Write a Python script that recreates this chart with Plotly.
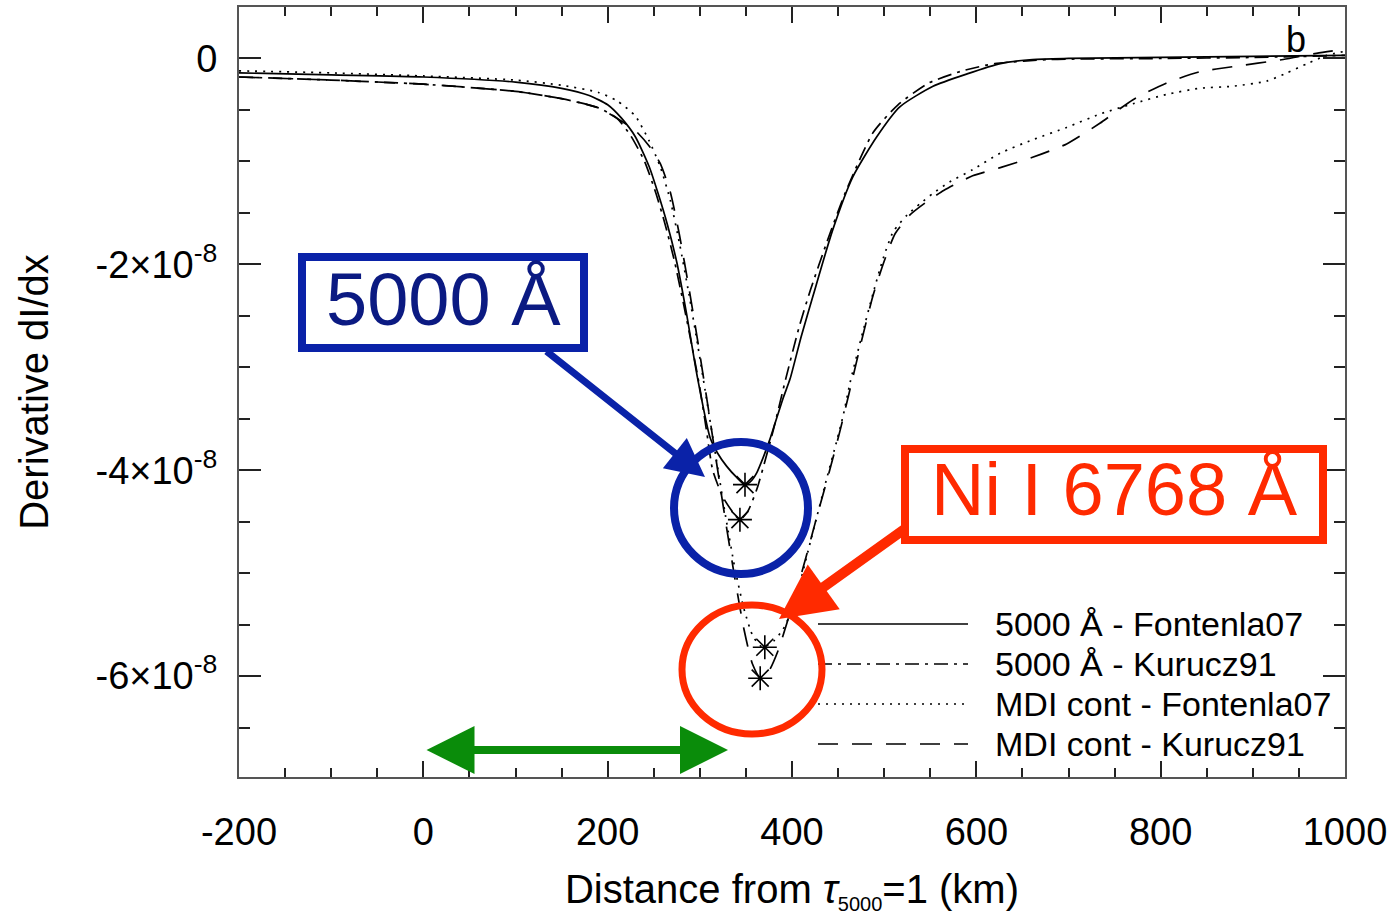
import numpy as np
import plotly.graph_objects as go

# ---------------- data (y in units of 1e-8) ----------------
x_5000_fon = [-200, -100, 0, 100, 150, 180, 200, 215, 230, 245, 255, 265, 275, 285, 297, 311, 319, 329,
              340, 349, 356, 362, 369, 376, 390, 398, 410, 423, 444, 466, 492, 517, 553, 590, 626, 661,
              700, 800, 900, 1000]
y_5000_fon = [-0.14, -0.16, -0.18, -0.23, -0.29, -0.36, -0.45, -0.58, -0.76, -1.05, -1.32, -1.62, -1.98,
              -2.45, -3.08, -3.68, -3.83, -3.96, -4.07, -4.14, -4.10, -4.02, -3.87, -3.70, -3.31, -3.11,
              -2.70, -2.30, -1.67, -1.15, -0.76, -0.47, -0.27, -0.15, -0.05, -0.01, 0.0, 0.01, 0.02, 0.03]

x_5000_kur = [-200, -100, 0, 100, 150, 190, 210, 225, 240, 252, 262, 272, 282, 292, 300, 307, 314, 325,
              336, 343.5, 352, 362, 371, 380, 393, 408, 420, 438, 458, 488, 515, 548, 585, 620, 680, 800,
              900, 1000]
y_5000_kur = [-0.18, -0.21, -0.25, -0.32, -0.39, -0.48, -0.58, -0.75, -1.0, -1.3, -1.6, -1.95, -2.37,
              -2.82, -3.2, -3.6, -4.0, -4.26, -4.41, -4.48, -4.40, -4.18, -3.9, -3.6, -3.12, -2.6, -2.25,
              -1.78, -1.3, -0.72, -0.45, -0.24, -0.12, -0.05, -0.01, 0.0, 0.01, 0.03]

x_mdi_fon = [-200, -100, 0, 100, 150, 190, 210, 230, 245, 257, 268, 278, 288, 298, 308, 318, 328, 338,
             348, 358, 368, 380, 390, 398, 405, 412, 419, 427, 438, 449, 456, 463, 475, 488, 499, 510,
             525, 539, 553, 571, 596, 626, 661, 698, 734, 770, 806, 842, 878, 915, 937, 959, 980, 1000]
y_mdi_fon = [-0.12, -0.14, -0.17, -0.21, -0.26, -0.33, -0.41, -0.56, -0.8, -1.05, -1.38, -1.8, -2.28,
             -2.8, -3.35, -3.9, -4.45, -4.95, -5.35, -5.62, -5.72, -5.66, -5.55, -5.40, -5.22, -4.98,
             -4.73, -4.45, -4.07, -3.70, -3.45, -3.15, -2.72, -2.28, -1.94, -1.68, -1.52, -1.41, -1.31,
             -1.2, -1.08, -0.92, -0.79, -0.67, -0.54, -0.44, -0.35, -0.29, -0.27, -0.22, -0.14, -0.05,
             0.03, 0.07]

x_mdi_kur = [-200, -100, 0, 100, 150, 190, 210, 230, 245, 257, 268, 278, 288, 298, 308, 318, 328, 338,
             348, 357, 366, 375, 385, 395, 405, 415, 427, 440, 452, 462, 475, 488, 500, 512, 528, 545,
             565, 596, 626, 661, 698, 734, 770, 806, 842, 878, 933, 969, 1000]
y_mdi_kur = [-0.18, -0.21, -0.25, -0.32, -0.39, -0.48, -0.58, -0.7, -0.85, -1.02, -1.3, -1.72, -2.22,
             -2.76, -3.33, -3.92, -4.5, -5.05, -5.55, -5.88, -6.02, -5.95, -5.75, -5.47, -5.17, -4.85,
             -4.45, -4.03, -3.62, -3.25, -2.76, -2.3, -1.97, -1.7, -1.52, -1.4, -1.28, -1.14, -1.06,
             -0.96, -0.83, -0.63, -0.4, -0.24, -0.13, -0.08, -0.01, 0.05, 0.09]

star_x = [349, 343.5, 370.5, 365.5]
star_y = [-4.14, -4.48, -5.72, -6.02]

legend_labels = ["5000 Å - Fontenla07", "5000 Å - Kurucz91", "MDI cont - Fontenla07", "MDI cont - Kurucz91"]
x_tickvals = [-200, 0, 200, 400, 600, 800, 1000]
y_tickvals = [0, -2, -4, -6]
y_ticktext = ["0", "-2×10<sup>-8</sup>", "-4×10<sup>-8</sup>", "-6×10<sup>-8</sup>"]

SCALE = 1e-8

# ---------------- figure geometry ----------------
W, H = 1394, 915
L, R, T, B = 239, 49, 7, 138
PW, PH = W - L - R, H - T - B


def px(xp):
    return (xp - L) / PW


def py(yp):
    return (H - B - yp) / PH


FONT = "Liberation Sans, Arial, Helvetica, sans-serif"
dashes = ["solid", "14px,6px,3px,6px", "2px,6px", "20px,14px"]
series = [(x_5000_fon, y_5000_fon), (x_5000_kur, y_5000_kur), (x_mdi_fon, y_mdi_fon), (x_mdi_kur, y_mdi_kur)]

fig = go.Figure()
for (xs, ys), d, name in zip(series, dashes, legend_labels):
    fig.add_trace(go.Scatter(x=xs, y=np.array(ys) * SCALE, mode="lines", name=name,
                             line=dict(color="black", width=1.7, dash=d, shape="spline", smoothing=0.6)))

fig.add_trace(go.Scatter(x=star_x, y=np.array(star_y) * SCALE, mode="markers", name="minima",
                         marker=dict(symbol="asterisk-open", size=20, color="black",
                                     line=dict(color="black", width=1.6))))

fig.update_layout(
    width=W, height=H,
    margin=dict(l=L, r=R, t=T, b=B, autoexpand=False),
    plot_bgcolor="white", paper_bgcolor="white",
    font=dict(family=FONT, size=38, color="black"),
    showlegend=False,
)

fig.update_xaxes(
    range=[-200, 1000], tickmode="array", tickvals=x_tickvals, ticktext=[str(v) for v in x_tickvals],
    ticks="inside", ticklen=16, tickwidth=2, tickcolor="#222",
    showline=True, linecolor="#555", linewidth=2, mirror="ticks",
    showgrid=False, zeroline=False, automargin=False,
    minor=dict(ticks="inside", ticklen=9, tickwidth=1.5, tickcolor="#222", tickmode="linear",
               tick0=0, dtick=50, showgrid=False),
    ticklabelstandoff=20,
    tickfont=dict(size=38),
    title=dict(text="Distance from <i>τ</i><sub><span style='font-size:20px'>5000</span></sub>=1 (km)",
               font=dict(size=40), standoff=24),
)

fig.update_yaxes(
    range=[-6.98e-8, 0.5e-8], tickmode="array", tickvals=[v * SCALE for v in y_tickvals], ticktext=y_ticktext,
    ticks="inside", ticklen=22, tickwidth=2, tickcolor="#222",
    showline=True, linecolor="#555", linewidth=2, mirror="ticks",
    showgrid=False, zeroline=False, automargin=False,
    minor=dict(ticks="inside", ticklen=11, tickwidth=1.5, tickcolor="#222", tickmode="linear",
               tick0=0, dtick=0.5e-8, showgrid=False),
    ticklabelstandoff=12,
    tickfont=dict(size=38),
    title=dict(text="Derivative dI/dx", font=dict(size=40), standoff=34),
)

# ---------------- legend (drawn manually, IDL-style) ----------------
leg_rows = [624, 664, 704, 744]
shapes = []
annotations = []
for yrow, d, lab in zip(leg_rows, dashes, legend_labels):
    shapes.append(dict(type="line", xref="paper", yref="paper", x0=px(818), x1=px(968), y0=py(yrow), y1=py(yrow),
                       line=dict(color="black", width=1.5, dash=d), layer="above"))
    annotations.append(dict(xref="paper", yref="paper", x=px(993), y=py(yrow), text=lab, showarrow=False,
                            xanchor="left", yanchor="middle", font=dict(size=34, color="black", family=FONT)))

# panel label
annotations.append(dict(xref="paper", yref="paper", x=px(1296), y=py(40), text="b", showarrow=False,
                        xanchor="center", yanchor="middle", font=dict(size=36, color="black", family=FONT)))

BLUE = "#0a22a8"
BLUE_T = "#0b1a82"
RED = "#ff2a00"
GREEN = "#0a8c0a"

# blue box + text
shapes.append(dict(type="rect", xref="paper", yref="paper", x0=px(302), x1=px(584), y0=py(257), y1=py(348),
                   line=dict(color=BLUE, width=8), fillcolor="rgba(0,0,0,0)", layer="above"))
annotations.append(dict(xref="paper", yref="paper", x=px(443), y=py(300), text="5000 Å", showarrow=False,
                        xanchor="center", yanchor="middle", font=dict(size=74, color=BLUE_T, family=FONT)))
# blue circle
shapes.append(dict(type="circle", xref="paper", yref="paper", x0=px(741 - 67), x1=px(741 + 67),
                   y0=py(508 - 66), y1=py(508 + 66), line=dict(color=BLUE, width=8), layer="above"))
# blue arrow
annotations.append(dict(xref="paper", yref="paper", x=px(705), y=py(477), ax=545 - 705, ay=350 - 477,
                        text="", showarrow=True, arrowhead=2, arrowsize=1.1, arrowwidth=7, arrowcolor=BLUE))

# red box + text
shapes.append(dict(type="rect", xref="paper", yref="paper", x0=px(905), x1=px(1323), y0=py(449), y1=py(540),
                   line=dict(color=RED, width=8), fillcolor="rgba(0,0,0,0)", layer="above"))
annotations.append(dict(xref="paper", yref="paper", x=px(1114), y=py(489), text="Ni I 6768 Å", showarrow=False,
                        xanchor="center", yanchor="middle", font=dict(size=74, color=RED, family=FONT)))
# red ellipse
shapes.append(dict(type="circle", xref="paper", yref="paper", x0=px(682), x1=px(822), y0=py(605), y1=py(734),
                   line=dict(color=RED, width=7), layer="above"))
# red arrow
annotations.append(dict(xref="paper", yref="paper", x=px(779), y=py(619), ax=906 - 779, ay=528 - 619,
                        text="", showarrow=True, arrowhead=2, arrowsize=1.1, arrowwidth=10, arrowcolor=RED))

# green double arrow
annotations.append(dict(xref="paper", yref="paper", x=px(728), y=py(750), ax=425 - 728, ay=0,
                        text="", showarrow=True, arrowhead=2, startarrowhead=2, arrowside="end+start",
                        arrowsize=1.2, startarrowsize=1.2, arrowwidth=8, arrowcolor=GREEN))

fig.update_layout(shapes=shapes, annotations=annotations)

fig.write_html("out.html", config={"displayModeBar": False},
               post_script="document.body.style.margin='0px';")
